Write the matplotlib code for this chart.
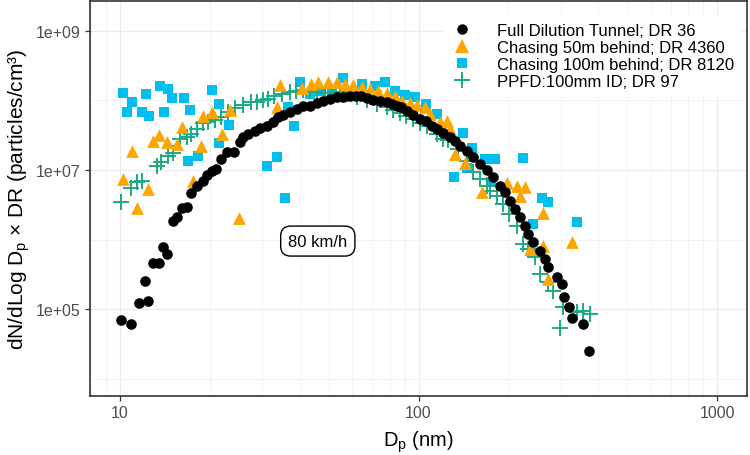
import matplotlib
matplotlib.use("Agg")
import matplotlib.pyplot as plt
from matplotlib.ticker import FixedLocator, NullFormatter
from matplotlib.lines import Line2D

plt.rcParams['font.family'] = ['Liberation Sans', 'DejaVu Sans']
plt.rcParams['mathtext.fontset'] = 'custom'
plt.rcParams['mathtext.rm'] = 'Liberation Sans'
plt.rcParams['mathtext.it'] = 'Liberation Sans:italic'

# ---- data ----
fdt_x = [10.05, 10.86, 11.58, 12.10, 12.44, 12.93, 13.51, 13.97, 14.38, 15.09, 15.56, 16.10, 16.73,
         17.30, 18.07, 19.02, 19.61, 20.33, 20.97, 21.80, 22.79, 24.15, 25.23, 25.88, 26.90, 28.34,
         29.44, 31.00, 32.49, 33.92, 35.26, 37.12, 39.08, 41.13, 43.30, 45.60, 47.98, 50.52, 53.21,
         56.01, 58.97, 61.76, 64.19, 67.07, 70.57, 74.30, 78.25, 81.31, 84.53, 87.38, 91.30, 96.07,
         101.2, 105.9, 110.7, 115.3, 120.5, 127.5, 132.5, 137.7, 145.0, 152.6, 160.7, 169.3, 178.1,
         187.5, 194.9, 202.5, 210.5, 218.8, 227.4, 233.3, 242.5, 255.3, 265.3, 272.1, 290.4, 303.5,
         307.5, 320.1, 326.1, 354.8, 372.5]
fdt_y = [6.95e4, 6.08e4, 1.22e5, 2.53e5, 1.32e5, 4.59e5, 4.59e5, 7.88e5, 6.18e5, 1.87e6, 2.11e6,
         2.84e6, 2.94e6, 4.67e6, 5.94e6, 7.02e6, 8.47e6, 9.68e6, 1.03e7, 1.44e7, 1.80e7, 1.83e7,
         2.50e7, 2.96e7, 3.30e7, 3.68e7, 3.98e7, 4.34e7, 4.86e7, 5.73e7, 6.18e7, 6.76e7, 7.55e7,
         8.26e7, 8.42e7, 9.21e7, 9.94e7, 1.05e8, 1.11e8, 1.12e8, 1.14e8, 1.15e8, 1.15e8, 1.09e8,
         1.03e8, 9.84e7, 9.42e7, 8.91e7, 8.42e7, 8.06e7, 7.13e7, 6.18e7, 5.42e7, 5.07e7, 4.26e7,
         3.89e7, 3.41e7, 2.96e7, 2.61e7, 2.24e7, 1.88e7, 1.54e7, 1.22e7, 1.00e7, 7.93e6, 5.94e6,
         4.78e6, 3.62e6, 2.75e6, 2.08e6, 1.58e6, 1.20e6, 9.12e5, 6.90e5, 5.24e5, 3.98e5, 2.86e5,
         2.29e5, 1.47e5, 1.06e5, 7.35e4, 6.08e4, 2.51e4]

c50_x = [10.26, 10.94, 11.37, 12.44, 12.93, 13.51, 14.34, 15.56, 16.20, 17.61, 18.64, 18.97, 20.29,
         21.91, 23.36, 25.10, 33.50, 34.43, 40.62, 43.63, 46.17, 49.87, 53.21, 56.74, 60.49, 64.54,
         68.80, 73.34, 78.25, 83.42, 87.87, 93.65, 99.07, 105.1, 109.3, 118.0, 124.3, 127.5, 132.5,
         142.6, 163.2, 197.9, 213.3, 218.8, 227.4, 236.4, 261.9, 261.9, 272.1, 326.1]
c50_y = [7.43e6, 1.90e7, 2.81e6, 5.38e6, 2.64e7, 3.19e7, 2.50e7, 2.37e7, 4.16e7, 7.02e6, 2.24e7,
         5.98e7, 6.84e7, 3.30e7, 7.30e7, 2.02e6, 7.98e7, 1.67e8, 1.51e8, 1.70e8, 1.85e8, 1.85e8,
         1.83e8, 1.73e8, 1.67e8, 1.58e8, 1.46e8, 1.38e8, 1.27e8, 1.15e8, 9.94e7, 9.21e7, 8.61e7,
         7.98e7, 6.39e7, 4.95e7, 5.12e7, 3.89e7, 1.70e7, 1.26e7, 4.78e6, 6.56e6, 5.89e6, 4.27e6,
         5.73e6, 7.30e5, 2.40e6, 8.15e5, 2.70e5, 9.30e5]

c100_x = [10.26, 10.58, 10.94, 11.82, 12.22, 12.54, 13.61, 14.04, 14.52, 14.90, 16.45, 16.86, 17.16,
          18.30, 20.33, 21.51, 21.54, 23.27, 31.00, 33.50, 35.84, 36.63, 38.19, 40.24, 43.30, 46.77,
          51.21, 56.01, 64.54, 71.50, 77.25, 83.42, 90.12, 97.34, 105.9, 115.1, 131.0, 140.6, 145.4,
          150.8, 167.1, 174.7, 180.4, 223.9, 242.5, 259.2, 272.1, 338.8]
c100_y = [1.27e8, 6.76e7, 9.42e7, 6.76e7, 1.24e8, 6.04e7, 1.63e8, 6.76e7, 1.46e8, 1.08e8, 1.07e8,
          1.33e7, 7.38e7, 1.57e7, 1.43e8, 2.44e7, 8.91e7, 4.37e7, 1.15e7, 1.52e7, 3.96e6, 7.98e7,
          4.34e7, 1.82e8, 1.24e8, 1.37e8, 1.34e8, 2.09e8, 1.73e8, 1.63e8, 1.83e8, 1.37e8, 1.20e8,
          1.11e8, 8.91e7, 6.39e7, 7.98e6, 3.41e7, 1.08e7, 2.07e7, 1.44e7, 6.65e6, 1.43e7, 1.47e7,
          1.67e6, 3.98e6, 3.43e6, 1.80e6]

ppfd_x = [10.08, 10.86, 11.37, 11.82, 13.27, 13.72, 14.52, 15.05, 15.89, 16.73, 17.30, 18.07, 19.02,
          19.75, 20.82, 21.80, 23.06, 24.29, 25.88, 27.48, 28.77, 30.20, 31.32, 32.81, 34.82, 37.12,
          38.87, 41.13, 43.30, 45.60, 48.62, 51.31, 54.58, 58.04, 62.09, 67.07, 72.44, 78.25, 82.13,
          86.70, 90.81, 96.07, 101.2, 106.5, 115.1, 121.1, 125.9, 135.9, 145.4, 152.6, 160.7, 169.3,
          173.6, 182.8, 191.9, 201.1, 213.3, 224.4, 232.8, 245.6, 255.3, 271.5, 282.9, 297.9, 305.6,
          338.8, 356.5, 375.4]
ppfd_y = [3.47e6, 5.51e6, 6.61e6, 6.84e6, 1.15e7, 1.30e7, 1.61e7, 1.76e7, 2.79e7, 2.96e7, 3.30e7,
          3.89e7, 4.74e7, 4.91e7, 5.24e7, 5.73e7, 6.76e7, 7.80e7, 8.61e7, 9.42e7, 9.51e7, 1.02e8,
          1.05e8, 1.14e8, 1.24e8, 1.31e8, 1.37e8, 1.42e8, 1.37e8, 1.33e8, 1.28e8, 1.28e8, 1.31e8,
          1.24e8, 1.11e8, 1.03e8, 8.91e7, 7.98e7, 7.30e7, 6.61e7, 5.98e7, 5.42e7, 4.74e7, 4.26e7,
          3.30e7, 2.79e7, 2.70e7, 2.00e7, 1.35e7, 9.36e6, 7.43e6, 5.94e6, 5.04e6, 4.16e6, 3.24e6,
          2.33e6, 1.58e6, 8.61e5, 7.30e5, 5.54e5, 3.19e5, 2.45e5, 1.83e5, 5.27e4, 1.06e5, 9.14e4,
          9.46e4, 8.47e4]

labels = ["Full Dilution Tunnel; DR 36", "Chasing 50m behind; DR 4360",
          "Chasing 100m behind; DR 8120", "PPFD:100mm ID; DR 97"]
x_ticks = [10, 100, 1000]
x_ticklabels = ["10", "100", "1000"]
y_ticks = [1e5, 1e7, 1e9]
y_ticklabels = ["1e+05", "1e+07", "1e+09"]
annot_text = "80 km/h"
annot_pos = (46.0, 9.5e5)

# ---- style ----
col_black = "#000000"
col_orange = "#FFA500"
col_blue = "#00BFEF"
col_green = "#1AAA84"

fig = plt.figure(figsize=(7.5, 4.56), dpi=100)
ax = fig.add_axes([90/750, 1-397/456, 657/750, 395/456])
ax.set_xscale('log')
ax.set_yscale('log')
ax.set_xlim(10**0.9, 10**3.1)
ax.set_ylim(10**3.75, 10**9.43)

ax.xaxis.set_major_locator(FixedLocator(x_ticks))
ax.xaxis.set_minor_locator(FixedLocator([m * 10**e for e in range(0, 4) for m in range(2, 10)]))
ax.yaxis.set_major_locator(FixedLocator(y_ticks))
ax.yaxis.set_minor_locator(FixedLocator([1e4, 1e6, 1e8]))
ax.xaxis.set_minor_formatter(NullFormatter())
ax.yaxis.set_minor_formatter(NullFormatter())
ax.set_xticklabels(x_ticklabels)
ax.set_yticklabels(y_ticklabels)
ax.grid(True, which='major', color='#EBEBEB', lw=0.9, zorder=0)
ax.grid(True, which='minor', color='#F0F0F0', lw=0.6, zorder=0)
ax.set_axisbelow(True)
ax.tick_params(which='minor', length=0)
ax.tick_params(which='major', length=3.5, width=0.9, color='#333333',
               labelsize=11.5, labelcolor='#4D4D4D', pad=3)
for s in ax.spines.values():
    s.set_color('#333333')
    s.set_linewidth(1.2)

ax.scatter(c100_x, c100_y, marker='s', s=55, color=col_blue, linewidths=0, zorder=2)
ax.scatter(ppfd_x, ppfd_y, marker='+', s=140, color=col_green, linewidths=1.4, zorder=3)
ax.scatter(c50_x, c50_y, marker='^', s=85, color=col_orange, linewidths=0, zorder=4)
ax.scatter(fdt_x, fdt_y, marker='o', s=58, color=col_black, linewidths=0, zorder=5)

ax.set_xlabel("D$_\\mathregular{p}$ (nm)", fontsize=14.5, labelpad=6)
ax.set_ylabel("dN/dLog D$_\\mathregular{p}$ × DR (particles/cm³)", fontsize=15, labelpad=3)

ax.text(annot_pos[0], annot_pos[1], annot_text, fontsize=12, ha='center', va='center',
        bbox=dict(boxstyle='round,pad=0.45,rounding_size=0.6', fc='white', ec='black', lw=1.0),
        zorder=6)

handles = [
    Line2D([], [], ls='', marker='o', ms=7.5, color=col_black, mew=0),
    Line2D([], [], ls='', marker='^', ms=9.5, color=col_orange, mew=0),
    Line2D([], [], ls='', marker='s', ms=7.3, color=col_blue, mew=0),
    Line2D([], [], ls='', marker='+', ms=11, color=col_green, mew=1.4),
]
leg = ax.legend(handles, labels, loc='upper right', bbox_to_anchor=(0.9925, 0.965), fontsize=12,
                frameon=True, framealpha=1, edgecolor='none', facecolor='white',
                handlelength=1.2, handletextpad=1.5, labelspacing=0.12, borderpad=0.5,
                borderaxespad=0.0)
leg.set_zorder(7)

fig.savefig("out.png", dpi=100)
